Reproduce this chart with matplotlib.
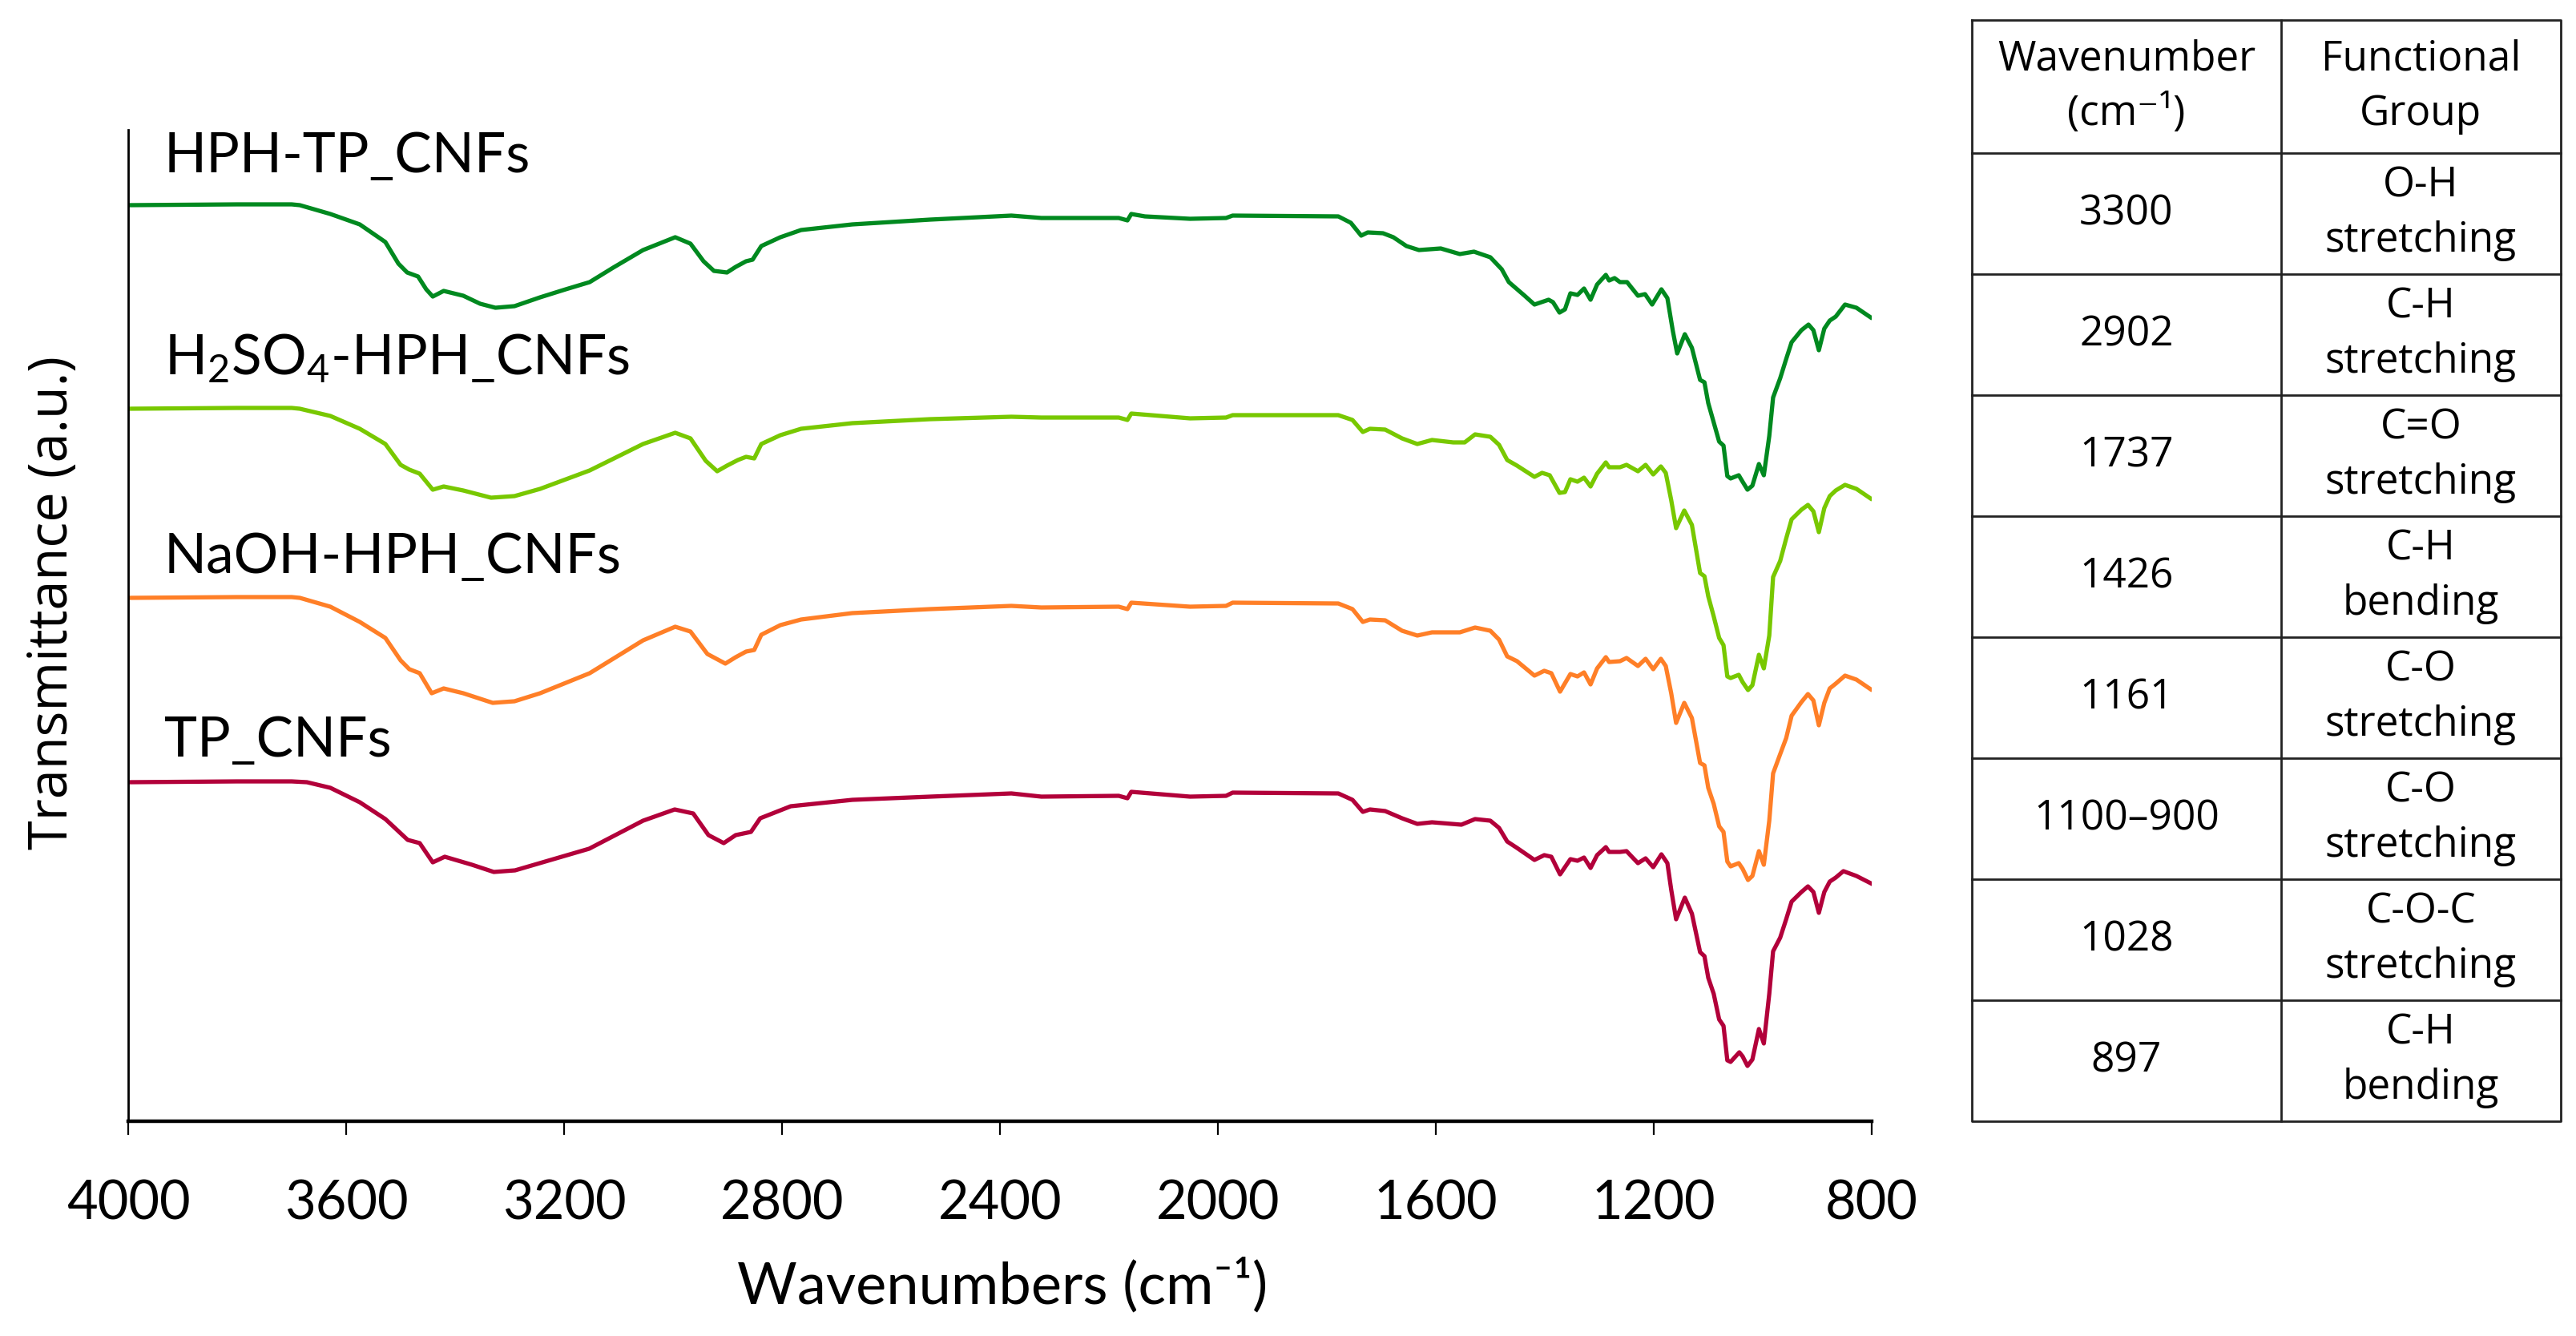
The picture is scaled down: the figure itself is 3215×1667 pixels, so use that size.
import matplotlib
matplotlib.use("Agg")
import matplotlib.pyplot as plt

# FTIR spectra (offset, arbitrary units)
wn_hph = [4000, 3800, 3700, 3685, 3629, 3575, 3528, 3504, 3488, 3468, 3453, 3441, 3421, 3385, 3354, 3326,
          3291, 3244, 3197, 3153, 3110, 3055, 2996, 2968, 2944, 2925, 2901, 2885, 2866, 2854, 2838,
          2803, 2765, 2671, 2528, 2379, 2324, 2182, 2166, 2159, 2134, 2051, 1985, 1973, 1779, 1756,
          1737, 1725, 1697, 1678, 1654, 1631, 1591, 1556, 1530, 1500, 1479, 1466, 1437, 1419, 1393,
          1385, 1373, 1363, 1353, 1340, 1328, 1316, 1304, 1288, 1282, 1272, 1262, 1249, 1229, 1216,
          1203, 1186, 1175, 1165, 1157, 1143, 1130, 1115, 1107, 1100, 1090, 1080, 1072, 1065, 1059,
          1044, 1037, 1028, 1019, 1007, 998, 988, 981, 968, 957, 947, 929, 916, 907, 897,
          887, 877, 866, 849, 828, 802]
t_hph = [11.43, 11.44, 11.44, 11.43, 11.32, 11.19, 10.97, 10.70, 10.59, 10.54, 10.38, 10.29, 10.36, 10.30, 10.20, 10.15,
         10.17, 10.28, 10.38, 10.47, 10.65, 10.87, 11.03, 10.95, 10.73, 10.61, 10.59, 10.66, 10.73, 10.75, 10.92,
         11.03, 11.12, 11.19, 11.25, 11.30, 11.27, 11.27, 11.24, 11.32, 11.29, 11.26, 11.27, 11.30, 11.29, 11.21,
         11.05, 11.09, 11.08, 11.03, 10.92, 10.87, 10.89, 10.82, 10.85, 10.78, 10.63, 10.47, 10.30, 10.19, 10.25,
         10.22, 10.09, 10.13, 10.33, 10.31, 10.39, 10.25, 10.44, 10.56, 10.49, 10.52, 10.47, 10.47, 10.30, 10.32,
         10.19, 10.38, 10.27, 9.86, 9.58, 9.82, 9.65, 9.25, 9.22, 8.96, 8.72, 8.48, 8.43, 8.05, 8.02,
         8.06, 7.98, 7.88, 7.93, 8.20, 8.06, 8.55, 9.03, 9.27, 9.51, 9.72, 9.87, 9.94, 9.87, 9.62,
         9.89, 9.99, 10.04, 10.19, 10.15, 10.03]

wn_h2so4 = [4000, 3800, 3700, 3685, 3629, 3575, 3528, 3500, 3484, 3465, 3441, 3421, 3385, 3334, 3291, 3244,
            3153, 3055, 2996, 2968, 2940, 2919, 2901, 2881, 2866, 2851, 2838, 2803, 2765, 2671, 2528,
            2379, 2324, 2182, 2166, 2159, 2051, 1985, 1973, 1779, 1753, 1734, 1721, 1693, 1662, 1634,
            1607, 1568, 1547, 1528, 1500, 1484, 1469, 1451, 1419, 1405, 1391, 1373, 1363, 1353, 1340,
            1328, 1316, 1304, 1288, 1282, 1262, 1250, 1229, 1215, 1201, 1187, 1178, 1168, 1159, 1144,
            1130, 1115, 1107, 1100, 1090, 1080, 1072, 1065, 1059, 1044, 1037, 1027, 1019, 1007, 998,
            988, 981, 968, 957, 947, 929, 917, 907, 897, 887, 877, 866, 849, 828, 802]
t_h2so4 = [8.89, 8.90, 8.90, 8.89, 8.80, 8.64, 8.45, 8.19, 8.13, 8.08, 7.88, 7.92, 7.87, 7.78, 7.80, 7.89,
           8.12, 8.45, 8.59, 8.52, 8.24, 8.11, 8.18, 8.25, 8.29, 8.27, 8.45, 8.56, 8.64, 8.71, 8.76,
           8.79, 8.78, 8.78, 8.75, 8.83, 8.77, 8.78, 8.81, 8.81, 8.75, 8.60, 8.64, 8.63, 8.52, 8.45,
           8.50, 8.47, 8.47, 8.57, 8.54, 8.44, 8.25, 8.18, 8.04, 8.09, 8.06, 7.84, 7.85, 8.01, 7.98,
           8.03, 7.92, 8.08, 8.22, 8.16, 8.16, 8.19, 8.11, 8.19, 8.07, 8.17, 8.09, 7.75, 7.40, 7.62,
           7.44, 6.84, 6.80, 6.55, 6.30, 6.03, 5.94, 5.55, 5.53, 5.57, 5.48, 5.38, 5.44, 5.82, 5.65,
           6.06, 6.79, 6.99, 7.27, 7.51, 7.63, 7.69, 7.61, 7.35, 7.65, 7.80, 7.87, 7.94, 7.89, 7.77]

wn_naoh = [4000, 3800, 3700, 3685, 3629, 3575, 3528, 3500, 3484, 3465, 3443, 3421, 3385, 3331, 3291, 3244,
           3153, 3055, 2996, 2968, 2937, 2904, 2885, 2866, 2851, 2838, 2803, 2765, 2671, 2528, 2379,
           2324, 2182, 2166, 2159, 2051, 1985, 1973, 1779, 1753, 1734, 1721, 1693, 1662, 1634, 1607,
           1556, 1528, 1500, 1484, 1469, 1451, 1419, 1401, 1388, 1372, 1353, 1340, 1328, 1316, 1304,
           1288, 1282, 1262, 1250, 1229, 1215, 1201, 1187, 1178, 1168, 1159, 1144, 1130, 1115, 1107,
           1100, 1090, 1080, 1072, 1065, 1059, 1044, 1037, 1027, 1019, 1007, 998, 988, 981, 968,
           957, 947, 929, 917, 907, 897, 887, 877, 866, 849, 828, 802]
t_naoh = [6.53, 6.54, 6.54, 6.53, 6.42, 6.23, 6.03, 5.75, 5.64, 5.59, 5.34, 5.40, 5.34, 5.22, 5.24, 5.34,
          5.59, 6.00, 6.17, 6.11, 5.83, 5.71, 5.79, 5.86, 5.88, 6.07, 6.19, 6.26, 6.34, 6.39, 6.43,
          6.41, 6.42, 6.39, 6.47, 6.42, 6.43, 6.47, 6.46, 6.39, 6.23, 6.26, 6.25, 6.12, 6.06, 6.10,
          6.10, 6.16, 6.12, 6.01, 5.80, 5.74, 5.56, 5.62, 5.59, 5.36, 5.58, 5.55, 5.60, 5.45, 5.65,
          5.79, 5.73, 5.74, 5.78, 5.68, 5.77, 5.64, 5.77, 5.68, 5.34, 4.97, 5.22, 5.03, 4.47, 4.44,
          4.16, 3.96, 3.68, 3.61, 3.24, 3.18, 3.22, 3.15, 3.01, 3.06, 3.37, 3.20, 3.75, 4.34, 4.58,
          4.78, 5.06, 5.23, 5.33, 5.25, 4.94, 5.22, 5.40, 5.46, 5.56, 5.51, 5.39]

wn_tp = [4000, 3800, 3700, 3672, 3629, 3575, 3528, 3487, 3465, 3441, 3419, 3369, 3329, 3290, 3154, 3055,
         2997, 2963, 2935, 2907, 2885, 2857, 2840, 2784, 2671, 2528, 2379, 2324, 2182, 2166, 2159,
         2051, 1985, 1973, 1779, 1753, 1734, 1721, 1693, 1662, 1634, 1607, 1553, 1528, 1500, 1484,
         1469, 1451, 1419, 1401, 1388, 1372, 1353, 1340, 1328, 1316, 1304, 1288, 1282, 1262, 1250,
         1229, 1215, 1201, 1186, 1175, 1168, 1159, 1143, 1130, 1115, 1107, 1100, 1090, 1080, 1072,
         1065, 1059, 1043, 1037, 1028, 1019, 1007, 998, 988, 981, 968, 957, 947, 929, 917,
         907, 897, 887, 877, 866, 852, 828, 802]
t_tp = [4.23, 4.24, 4.24, 4.23, 4.16, 3.98, 3.77, 3.51, 3.47, 3.23, 3.30, 3.20, 3.11, 3.13, 3.40, 3.75,
        3.89, 3.84, 3.57, 3.47, 3.57, 3.61, 3.78, 3.93, 4.01, 4.05, 4.09, 4.05, 4.06, 4.03, 4.11,
        4.05, 4.06, 4.10, 4.09, 4.01, 3.86, 3.89, 3.87, 3.78, 3.71, 3.73, 3.70, 3.77, 3.75, 3.66,
        3.49, 3.41, 3.26, 3.32, 3.30, 3.08, 3.27, 3.25, 3.29, 3.16, 3.32, 3.42, 3.36, 3.36, 3.37,
        3.22, 3.28, 3.17, 3.33, 3.22, 2.89, 2.52, 2.79, 2.59, 2.11, 2.06, 1.79, 1.59, 1.27, 1.19,
        0.76, 0.74, 0.86, 0.81, 0.69, 0.77, 1.15, 0.97, 1.59, 2.12, 2.29, 2.52, 2.74, 2.86, 2.93,
        2.86, 2.60, 2.86, 2.99, 3.04, 3.12, 3.06, 2.97]

series_names = ["HPH-TP_CNFs", r"H$_\mathregular{2}$SO$_\mathregular{4}$-HPH_CNFs", "NaOH-HPH_CNFs", "TP_CNFs"]
series_colors = ["#00891f", "#78c800", "#ff7f27", "#b2003a"]
label_y = [11.84, 9.31, 6.84, 4.55]

x_ticks = [4000, 3600, 3200, 2800, 2400, 2000, 1600, 1200, 800]

# table of band assignments
table_header = ["Wavenumber\n(cm\u207b\u00b9)", "Functional\nGroup"]
band_wavenumbers = ["3300", "2902", "1737", "1426", "1161", "1100\u2013900", "1028", "897"]
band_groups = ["O-H\nstretching", "C-H\nstretching", "C=O\nstretching", "C-H\nbending",
               "C-O\nstretching", "C-O\nstretching", "C-O-C\nstretching", "C-H\nbending"]

plt.rcParams["mathtext.fontset"] = "custom"
plt.rcParams["mathtext.rm"] = "Lato"
plt.rcParams["mathtext.it"] = "Lato"

W, H = 3216, 1667
fig = plt.figure(figsize=(W / 200, H / 200), dpi=200)
ax = fig.add_axes([160 / W, 1 - 1399 / H, (2336 - 160) / W, (1399 - 162) / H])

spectra = [(wn_hph, t_hph), (wn_h2so4, t_h2so4), (wn_naoh, t_naoh), (wn_tp, t_tp)]
for (wn, t), name, col, ly in zip(spectra, series_names, series_colors, label_y):
    ax.plot(wn, t, color=col, lw=1.9, solid_joinstyle="round")
    ax.text(3934, ly, name, fontsize=25, family=["Lato", "DejaVu Sans"], va="baseline", ha="left")

ax.set_xlim(4000, 800)
ax.set_ylim(0, 12.37)
ax.set_xticks(x_ticks)
ax.set_xticklabels([str(v) for v in x_ticks], fontsize=24, family="Lato")
ax.set_yticks([])
ax.spines["top"].set_visible(False)
ax.spines["right"].set_visible(False)
ax.spines["left"].set_linewidth(1.0)
ax.spines["bottom"].set_linewidth(1.6)
ax.tick_params(axis="x", direction="out", length=6, width=0.8, pad=20)

fig.text(1251 / W, 1 - 1604 / H, "Wavenumbers (cm\u207b\u00b9)", fontsize=26,
         family=["Lato", "DejaVu Sans"], ha="center", va="center")
fig.text(66 / W, 1 - 752 / H, "Transmittance (a.u.)", fontsize=24, family="Open Sans",
         rotation=90, ha="center", va="center")

# table drawn on its own axes
tab = fig.add_axes([2461 / W, 1 - 1399 / H, (3196 - 2461) / W, (1399 - 25) / H])
tab.set_xlim(0, 1)
n_rows = len(band_wavenumbers)
head_h = 1.1
tab.set_ylim(head_h + n_rows, 0)
tab.axis("off")
split = 0.525
lc = "#222222"
tab.plot([0, 1, 1, 0, 0], [0, 0, head_h + n_rows, head_h + n_rows, 0], color=lc, lw=1.0, clip_on=False)
tab.plot([split, split], [0, head_h + n_rows], color=lc, lw=1.0, clip_on=False)
for i in range(n_rows):
    tab.plot([0, 1], [head_h + i, head_h + i], color=lc, lw=1.0, clip_on=False)

tfont = dict(fontsize=18.5, family=["Open Sans", "DejaVu Sans"], ha="center", va="center", linespacing=1.45)
tab.text(split / 2, head_h / 2, table_header[0], **tfont)
tab.text((1 + split) / 2, head_h / 2, table_header[1], **tfont)
for i, (wv, grp) in enumerate(zip(band_wavenumbers, band_groups)):
    yc = head_h + i + 0.5
    tab.text(split / 2, yc, wv, **tfont)
    tab.text((1 + split) / 2, yc, grp, **tfont)

fig.savefig("out.png", dpi=200, facecolor="white")
